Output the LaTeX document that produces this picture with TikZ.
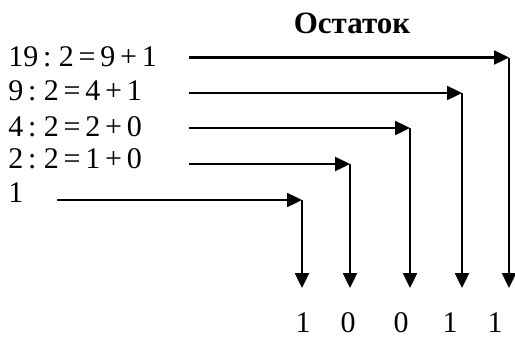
\documentclass[tikz,border=0pt]{standalone}
\usepackage{fontspec}
\setmainfont{Liberation Serif}
\usetikzlibrary{arrows.meta}

\newcommand\rowfont{\fontsize{15}{18}\selectfont\spaceskip=0.16em\relax}

\begin{document}
\begin{tikzpicture}[x=0.5pt, y=-0.5pt,
  >={Triangle[length=7.5pt, width=7pt]},
  every node/.style={inner sep=0pt, font=\rowfont},
  arr/.style={->, line width=1.2pt}]
\useasboundingbox (0,0) rectangle (515,338);

% title
\node[anchor=base, font=\fontsize{15.5}{18}\selectfont\bfseries] (title) at (352,33) {Остаток};

% division steps
\node[anchor=base west] (r1) at (8,66) {19 : 2 = 9 + 1};
\node[anchor=base west] (r2) at (8,100) {9 : 2 = 4 + 1};
\node[anchor=base west] (r3) at (8,136) {4 : 2 = 2 + 0};
\node[anchor=base west] (r4) at (8,168) {2 : 2 = 1 + 0};
\node[anchor=base west] (r5) at (8,202) {1};

% line starts, corners and ends
\coordinate (s1) at (189,57.5);
\coordinate (s2) at (189,93);
\coordinate (s3) at (189,128);
\coordinate (s4) at (189,164);
\coordinate (s5) at (57,200);

\coordinate (c1) at (509,57.5);
\coordinate (c2) at (462,93);
\coordinate (c3) at (410,128);
\coordinate (c4) at (350,164);
\coordinate (c5) at (302,200);

\coordinate (d1) at (509,288);
\coordinate (d2) at (462,288);
\coordinate (d3) at (410,288);
\coordinate (d4) at (350,288);
\coordinate (d5) at (302,288);

% remainders
\draw[arr] (s1) -- (c1);
\draw[arr] (c1) -- (d1);
\draw[arr] (s2) -- (c2);
\draw[arr] (c2) -- (d2);
\draw[arr] (s3) -- (c3);
\draw[arr] (c3) -- (d3);
\draw[arr] (s4) -- (c4);
\draw[arr] (c4) -- (d4);
\draw[arr] (s5) -- (c5);
\draw[arr] (c5) -- (d5);

% binary result
\node[anchor=base] (b1) at (303,332) {1};
\node[anchor=base] (b2) at (348,332) {0};
\node[anchor=base] (b3) at (401,332) {0};
\node[anchor=base] (b4) at (450,332) {1};
\node[anchor=base] (b5) at (495,332) {1};

\end{tikzpicture}
\end{document}
